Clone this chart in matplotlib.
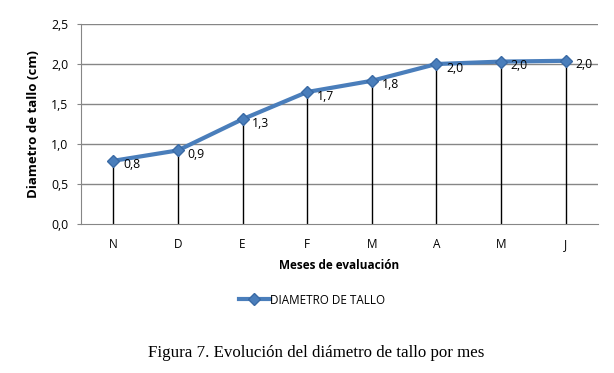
import matplotlib
matplotlib.use("Agg")
import matplotlib.pyplot as plt

meses = ["N", "D", "E", "F", "M", "A", "M", "J"]
diametro = [0.79, 0.92, 1.31, 1.65, 1.79, 2.00, 2.03, 2.04]
etiquetas = ["0,8", "0,9", "1,3", "1,7", "1,8", "2,0", "2,0", "2,0"]
yticks = [0.0, 0.5, 1.0, 1.5, 2.0, 2.5]
ytick_labels = ["0,0", "0,5", "1,0", "1,5", "2,0", "2,5"]

sans = ["Open Sans", "DejaVu Sans"]
plt.rcParams['font.family'] = sans

fig = plt.figure(figsize=(6.14, 3.73), dpi=100)
ax = fig.add_axes([81/614, 1 - 224/373, 517/614, 200/373])

x = list(range(len(meses)))
ax.set_xlim(-0.5, len(meses) - 0.5)
ax.set_ylim(0, 2.5)

for yv in yticks[1:]:
    ax.axhline(yv, color="#868686", lw=1.0, zorder=1)

ax.vlines(x, 0, diametro, color="black", lw=1.0, zorder=2)
line, = ax.plot(x, diametro, color="#4A7EBB", lw=3.0, marker="D", markersize=6,
                markerfacecolor="#4A7EBB", markeredgecolor="#3A6AA5", zorder=3,
                label="DIAMETRO DE TALLO")

for xi, yi, lab in zip(x, diametro, etiquetas):
    ax.annotate(lab, (xi, yi), xytext=(7, -3), textcoords="offset points",
                ha="left", va="center", fontsize=8.8, color="black")

ax.set_yticks(yticks)
ax.set_yticklabels(ytick_labels, fontsize=8.8)
ax.set_xticks(x)
ax.set_xticklabels(meses, fontsize=8.5)
ax.tick_params(axis="y", length=3, color="#868686", pad=6)
ax.tick_params(axis="x", length=0, pad=10)

for s in ["top", "right"]:
    ax.spines[s].set_visible(False)
ax.spines["left"].set_color("#868686")
ax.spines["bottom"].set_color("#868686")

ax.set_xlabel("Meses de evaluación", fontsize=8.5, fontweight="bold", labelpad=6)
ax.set_ylabel("Diametro de tallo (cm)", fontsize=9.5, fontweight="bold", labelpad=8)

fig.legend(handles=[line], loc="center", bbox_to_anchor=(312/614, 1 - 300/373),
           frameon=False, fontsize=8.4, handlelength=2.6, handletextpad=0.0)

fig.text(316/614, 1 - 353/373, "Figura 7. Evolución del diámetro de tallo por mes",
         ha="center", va="center", fontsize=12.2, family=["Liberation Serif", "DejaVu Serif"])

fig.savefig("out.png", dpi=100)
